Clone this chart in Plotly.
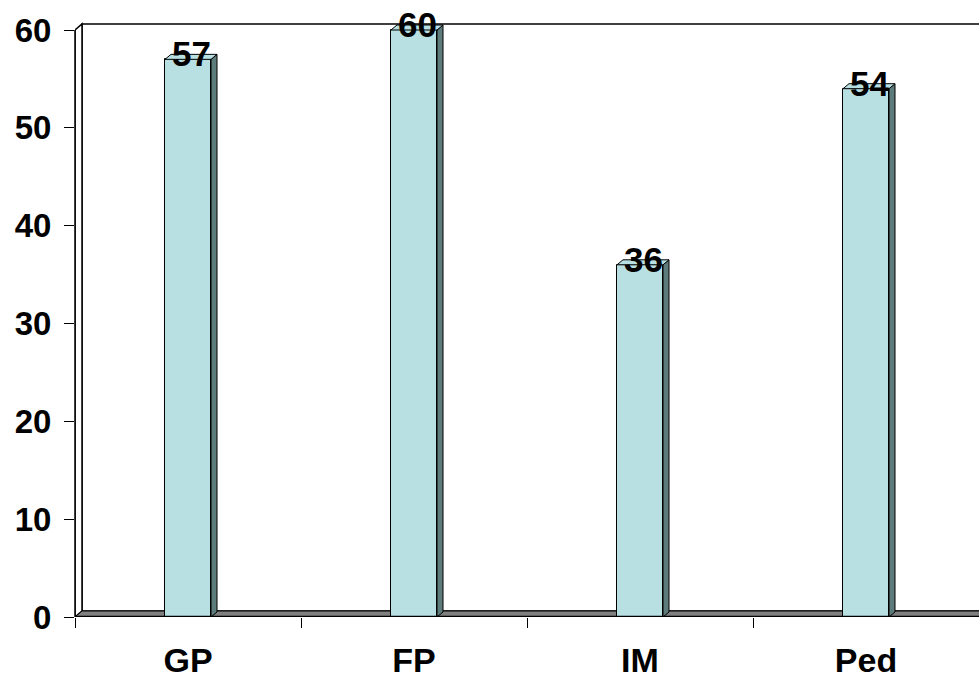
import plotly.graph_objects as go

# ---- data -------------------------------------------------------------
categories = ["GP", "FP", "IM", "Ped"]
values = [57, 60, 36, 54]
y_tick_values = [0, 10, 20, 30, 40, 50, 60]

# ---- canvas / scale helpers --------------------------------------------
W, H = 979, 683
ML, MR, MT, MB = 75, 0, 0, 66
plot_w = W - ML - MR
plot_h = H - MT - MB
y_top_val = y_tick_values[-1]
y_top_px = 30                                   # pixel row of the top tick inside the plot
px_per_unit = (plot_h - y_top_px) / y_top_val
y_max = plot_h / px_per_unit
n_cat = len(categories)
px_per_cat = plot_w / n_cat


def dxu(px):
    return px / px_per_cat


def dyu(px):
    return px / px_per_unit


bar_w = 46 / px_per_cat
bar_dx, bar_dy = dxu(6), dyu(5)       # depth of each column
wall_dx, wall_dy = dxu(7), dyu(6)     # depth of floor / back wall

FRONT = "#B8E0E3"
SIDE = "#5E7B7B"
FLOOR = "#808080"
FONT = "Arial, 'Liberation Sans', sans-serif"

xs = [i + 0.5 for i in range(n_cat)]

fig = go.Figure()

# front faces of the columns
fig.add_trace(go.Bar(
    x=xs, y=values, width=bar_w,
    marker=dict(color=FRONT, line=dict(color="black", width=1)),
    hoverinfo="skip", showlegend=False,
))

# side faces
sx, sy = [], []
for x, v in zip(xs, values):
    r = x + bar_w / 2
    sx += [r, r + bar_dx, r + bar_dx, r, r, None]
    sy += [0, bar_dy, v + bar_dy, v, 0, None]
fig.add_trace(go.Scatter(
    x=sx, y=sy, mode="lines", fill="toself", fillcolor=SIDE,
    line=dict(color="black", width=1), hoverinfo="skip", showlegend=False,
))

# top faces
tx, ty = [], []
for x, v in zip(xs, values):
    l, r = x - bar_w / 2, x + bar_w / 2
    tx += [l, l + bar_dx, r + bar_dx, r, l, None]
    ty += [v, v + bar_dy, v + bar_dy, v, v, None]
fig.add_trace(go.Scatter(
    x=tx, y=ty, mode="lines", fill="toself", fillcolor=FRONT,
    line=dict(color="black", width=1), hoverinfo="skip", showlegend=False,
))

shapes = []
# back wall
shapes.append(dict(
    type="rect", xref="x", yref="y", layer="below",
    x0=wall_dx, x1=n_cat + wall_dx, y0=wall_dy, y1=y_top_val + wall_dy,
    fillcolor="white", line=dict(color="black", width=1.5),
))
# side wall
shapes.append(dict(
    type="path", xref="x", yref="y", layer="below",
    path=f"M 0,0 L {wall_dx},{wall_dy} L {wall_dx},{y_top_val + wall_dy} L 0,{y_top_val} Z",
    fillcolor="white", line=dict(color="black", width=1.5),
))
# floor
shapes.append(dict(
    type="path", xref="x", yref="y", layer="below",
    path=f"M 0,0 L {n_cat},0 L {n_cat + wall_dx},{wall_dy} L {wall_dx},{wall_dy} Z",
    fillcolor=FLOOR, line=dict(color="black", width=1),
))
# floor front edge
shapes.append(dict(
    type="line", xref="x", yref="y", layer="above",
    x0=0, x1=n_cat, y0=0, y1=0, line=dict(color="black", width=2.5),
))
# value axis line
shapes.append(dict(
    type="line", xref="paper", yref="y", layer="above",
    x0=0, x1=0, y0=0, y1=y_top_val, line=dict(color="black", width=1.5),
))

annotations = []
for x, v in zip(xs, values):
    annotations.append(dict(
        x=x + bar_dx / 2, y=v + bar_dy / 2, xref="x", yref="y",
        text=str(v), showarrow=False, yshift=3,
        xanchor="center", yanchor="middle",
        font=dict(family=FONT, size=35, color="black", weight="bold"),
    ))

fig.update_layout(
    width=W, height=H,
    margin=dict(l=ML, r=MR, t=MT, b=MB, pad=0),
    paper_bgcolor="white", plot_bgcolor="white",
    shapes=shapes, annotations=annotations,
    showlegend=False, bargap=0,
    xaxis=dict(
        range=[0, n_cat], tickmode="array", tickvals=xs, ticktext=categories,
        ticks="", showgrid=False, zeroline=False, showline=False,
        tickfont=dict(family=FONT, size=34, color="black", weight="bold"),
        ticklabelstandoff=20,
        minor=dict(tickmode="array", tickvals=list(range(n_cat + 1)),
                   ticks="outside", ticklen=10, tickcolor="black", tickwidth=1,
                   showgrid=False),
        fixedrange=True,
    ),
    yaxis=dict(
        range=[0, y_max], tickmode="array", tickvals=y_tick_values,
        ticks="outside", ticklen=10, tickcolor="black", tickwidth=1,
        showgrid=False, zeroline=False, showline=False,
        tickfont=dict(family=FONT, size=33, color="black", weight="bold"),
        ticklabelstandoff=6,
        fixedrange=True,
    ),
)

fig.write_html("out.html")
